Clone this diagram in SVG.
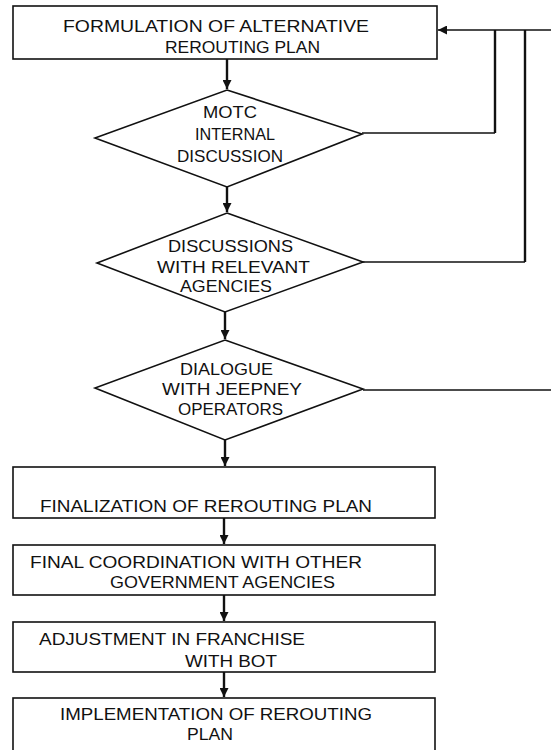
<svg xmlns="http://www.w3.org/2000/svg" width="551" height="750" viewBox="0 0 551 750">
<style>
.box{fill:#fff;stroke:#111;stroke-width:1.6}
.t{font-family:"Liberation Sans",Arial,sans-serif;font-size:17px;fill:#111}
.c{fill:none;stroke:#111;stroke-width:1.6}
.v{fill:none;stroke:#111;stroke-width:2.4}
</style>
<defs>
<marker id="ah" viewBox="0 0 10 10" refX="10" refY="5" markerWidth="9" markerHeight="9" markerUnits="userSpaceOnUse" orient="auto">
<path d="M0,0 L10,5 L0,10 Z" fill="#111"/>
</marker>
</defs>
<rect width="551" height="750" fill="#fff"/>
<g id="connectors">
<path class="v" d="M227,59 V89" marker-end="url(#ah)"/>
<path class="v" d="M227,187 V212" marker-end="url(#ah)"/>
<path class="v" d="M225,312 V339" marker-end="url(#ah)"/>
<path class="v" d="M225,440 V466" marker-end="url(#ah)"/>
<path class="v" d="M224,518 V544" marker-end="url(#ah)"/>
<path class="v" d="M224,595 V621" marker-end="url(#ah)"/>
<path class="v" d="M224,672 V697" marker-end="url(#ah)"/>
<path class="c" d="M362,133 H495"/>
<path class="v" d="M495,133 V30"/>
<path class="c" d="M363,262 H525"/>
<path class="v" d="M525,262 V30"/>
<path class="c" d="M551,30 H438" marker-end="url(#ah)"/>
<path class="c" d="M363,390 H551"/>
</g>
<g id="n1">
<rect class="box" x="13" y="6" width="424" height="53"/>
<text class="t" x="63" y="32" textLength="306" lengthAdjust="spacingAndGlyphs">FORMULATION OF ALTERNATIVE</text>
<text class="t" x="165" y="53" textLength="155" lengthAdjust="spacingAndGlyphs">REROUTING PLAN</text>
</g>
<g id="n2">
<polygon class="box" points="227,90 362,134 227,187 95,138"/>
<text class="t" x="203" y="118" textLength="54" lengthAdjust="spacingAndGlyphs">MOTC</text>
<text class="t" x="195" y="140" textLength="80" lengthAdjust="spacingAndGlyphs">INTERNAL</text>
<text class="t" x="177" y="162" textLength="106" lengthAdjust="spacingAndGlyphs">DISCUSSION</text>
</g>
<g id="n3">
<polygon class="box" points="227,213 363,262 225,312 97,263"/>
<text class="t" x="168" y="252" textLength="125" lengthAdjust="spacingAndGlyphs">DISCUSSIONS</text>
<text class="t" x="157" y="273" textLength="153" lengthAdjust="spacingAndGlyphs">WITH RELEVANT</text>
<text class="t" x="180" y="292" textLength="92" lengthAdjust="spacingAndGlyphs">AGENCIES</text>
</g>
<g id="n4">
<polygon class="box" points="225,340 363,389 225,440 95,388"/>
<text class="t" x="180" y="375" textLength="93" lengthAdjust="spacingAndGlyphs">DIALOGUE</text>
<text class="t" x="162" y="395" textLength="140" lengthAdjust="spacingAndGlyphs">WITH JEEPNEY</text>
<text class="t" x="178" y="415" textLength="105" lengthAdjust="spacingAndGlyphs">OPERATORS</text>
</g>
<g id="n5">
<rect class="box" x="13" y="467" width="422" height="51"/>
<text class="t" x="40" y="512" textLength="332" lengthAdjust="spacingAndGlyphs">FINALIZATION OF REROUTING PLAN</text>
</g>
<g id="n6">
<rect class="box" x="13" y="545" width="422" height="50"/>
<text class="t" x="30" y="568" textLength="332" lengthAdjust="spacingAndGlyphs">FINAL COORDINATION WITH OTHER</text>
<text class="t" x="110" y="588" textLength="225" lengthAdjust="spacingAndGlyphs">GOVERNMENT AGENCIES</text>
</g>
<g id="n7">
<rect class="box" x="13" y="622" width="422" height="50"/>
<text class="t" x="39" y="645" textLength="266" lengthAdjust="spacingAndGlyphs">ADJUSTMENT IN FRANCHISE</text>
<text class="t" x="185" y="667" textLength="92" lengthAdjust="spacingAndGlyphs">WITH BOT</text>
</g>
<g id="n8">
<rect class="box" x="13" y="698" width="422" height="60"/>
<text class="t" x="60" y="720" textLength="312" lengthAdjust="spacingAndGlyphs">IMPLEMENTATION OF REROUTING</text>
<text class="t" x="187" y="740" textLength="46" lengthAdjust="spacingAndGlyphs">PLAN</text>
</g>
</svg>
